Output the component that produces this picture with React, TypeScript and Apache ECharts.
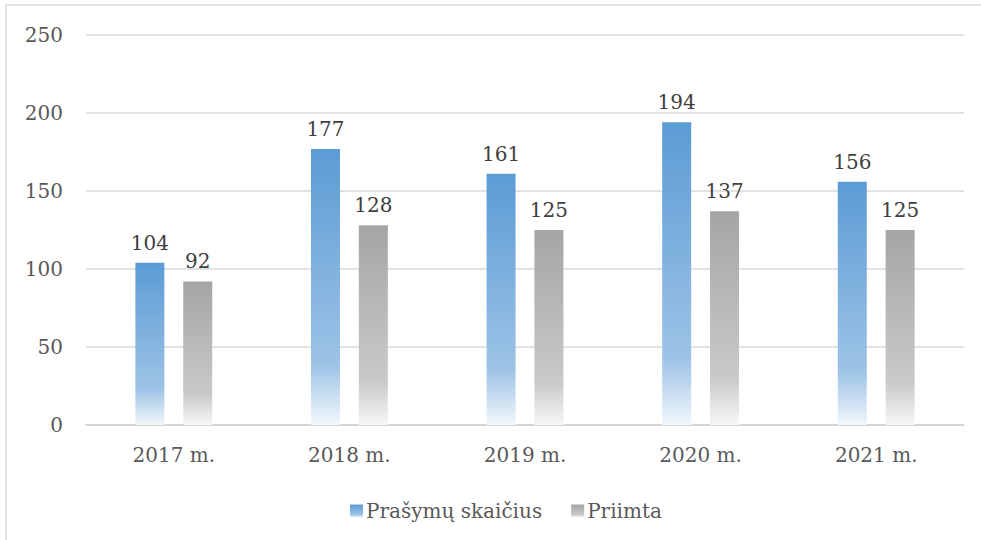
import React, { useEffect, useRef } from "react";
import * as echarts from "echarts";

const categories = ["2017 m.", "2018 m.", "2019 m.", "2020 m.", "2021 m."];
const requestsName = "Prašymų skaičius";
const acceptedName = "Priimta";
const requests = [104, 177, 161, 194, 156];
const accepted = [92, 128, 125, 137, 125];
const yTicks = { min: 0, max: 250, interval: 50 };

const FONT = "'DejaVu Serif', serif";

function grad(top: string, mid: string, bottom: string) {
  return new echarts.graphic.LinearGradient(0, 0, 0, 1, [
    { offset: 0, color: top },
    { offset: 0.78, color: mid },
    { offset: 1, color: bottom },
  ]);
}

export default function App() {
  const ref = useRef<HTMLDivElement>(null);
  useEffect(() => {
    if (!ref.current) return;
    const chart = echarts.init(ref.current, undefined, { renderer: "svg" });
    const labelStyle = {
      show: true,
      position: "top" as const,
      distance: 10,
      color: "#404040",
      fontFamily: FONT,
      fontSize: 20,
    };
    chart.setOption({
      animation: false,
      backgroundColor: "#ffffff",
      graphic: [
        {
          type: "rect",
          shape: { x: 6, y: 5, width: 1000, height: 600 },
          style: { fill: "none", stroke: "#D9D9D9", lineWidth: 1.5 },
          silent: true,
          z: 0,
        },
      ],
      grid: { left: 86, right: 17, top: 35, bottom: 115, containLabel: false },
      legend: {
        left: 345,
        top: 496,
        itemWidth: 13,
        itemHeight: 13,
        itemGap: 29,
        icon: "rect",
        textStyle: { color: "#595959", fontFamily: FONT, fontSize: 20, padding: [0, 0, 0, -2] },
        data: [requestsName, acceptedName],
      },
      xAxis: {
        type: "category",
        data: categories,
        axisLine: { lineStyle: { color: "#D0D0D0", width: 1.5 } },
        axisTick: { show: false },
        axisLabel: { color: "#595959", fontFamily: FONT, fontSize: 20, margin: 20 },
      },
      yAxis: {
        type: "value",
        min: yTicks.min,
        max: yTicks.max,
        interval: yTicks.interval,
        axisLine: { show: false },
        axisTick: { show: false },
        axisLabel: { color: "#595959", fontFamily: FONT, fontSize: 20, margin: 23 },
        splitLine: { lineStyle: { color: "#D9D9D9", width: 1.5 } },
      },
      series: [
        {
          name: requestsName,
          type: "bar",
          data: requests,
          barWidth: 29,
          barGap: "65%",
          itemStyle: { color: grad("#5B9BD5", "#9DC3E6", "#F2F7FC") },
          label: labelStyle,
        },
        {
          name: acceptedName,
          type: "bar",
          data: accepted,
          barWidth: 29,
          itemStyle: { color: grad("#A5A5A5", "#C9C9C9", "#F7F7F7") },
          label: labelStyle,
        },
      ],
    });
    return () => chart.dispose();
  }, []);
  return (
    <div
      ref={ref}
      style={{ position: "absolute", left: 0, top: 0, width: 981, height: 540 }}
    />
  );
}
